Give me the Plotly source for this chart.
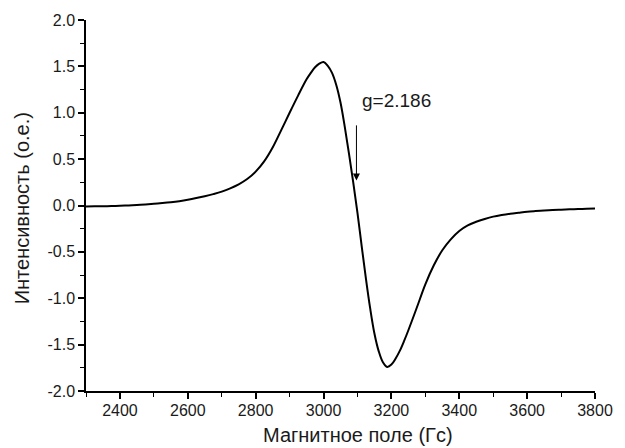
import plotly.graph_objects as go

# EPR derivative spectrum: magnetic field (G) vs intensity (a.u.)
# 25 G steps on the wings, 12.5 G steps across the resonance
field = ([2300 + 25 * i for i in range(26)]
         + [2950 + 12.5 * i for i in range(25)]
         + [3275 + 25 * i for i in range(22)])
intensity = [
    # 2300 .. 2925
    -0.010, -0.009, -0.008, -0.006, -0.003, 0.001, 0.005, 0.011, 0.018, 0.026,
    0.035, 0.047, 0.062, 0.080, 0.100, 0.123, 0.150, 0.185, 0.228, 0.285,
    0.365, 0.475, 0.625, 0.810, 1.000, 1.185,
    # 2950 .. 3250
    1.360, 1.430, 1.490, 1.530, 1.548, 1.505, 1.430, 1.300, 1.110, 0.850,
    0.560, 0.250, -0.080, -0.440, -0.790, -1.110, -1.380, -1.570, -1.690, -1.740,
    -1.715, -1.650, -1.565, -1.460, -1.345,
    # 3275 .. 3800
    -1.100, -0.850, -0.645, -0.482, -0.365, -0.275, -0.215, -0.175, -0.145, -0.120,
    -0.102, -0.088, -0.077, -0.067, -0.060, -0.054, -0.049, -0.045, -0.041, -0.038,
    -0.035, -0.032,
]

x_ticks = [2400, 2600, 2800, 3000, 3200, 3400, 3600, 3800]
y_ticks = [-2.0, -1.5, -1.0, -0.5, 0.0, 0.5, 1.0, 1.5, 2.0]
y_tick_text = ["-2.0", "-1.5", "-1.0", "-0.5", "0.0", "0.5", "1.0", "1.5", "2.0"]

g_field = 3097
g_label = "g=2.186"
arrow_top, arrow_tip = 0.88, 0.27

FONT = "Liberation Sans, Arial, sans-serif"
INK = "#1a1a1a"

fig = go.Figure()
fig.add_trace(go.Scatter(
    x=field, y=intensity, mode="lines",
    line=dict(color="black", width=2, shape="spline", smoothing=1.0),
    hoverinfo="skip", showlegend=False,
))

axis_common = dict(
    showline=True, linecolor="black", linewidth=1.5, mirror=False,
    showgrid=False, zeroline=False,
    ticks="outside", ticklen=6, tickwidth=1.5, tickcolor="black",
    tickfont=dict(family=FONT, size=16, color=INK),
)

fig.update_layout(
    width=625, height=448,
    margin=dict(l=86, r=28, t=14, b=57),
    paper_bgcolor="white", plot_bgcolor="white",
    xaxis=dict(range=[2300, 3800], tickvals=x_ticks, ticklabelstandoff=-2,
               minor=dict(dtick=100, tick0=2300, ticks="outside", ticklen=4,
                          tickwidth=1, tickcolor="black"),
               **axis_common),
    yaxis=dict(range=[-2, 2], tickvals=y_ticks, ticktext=y_tick_text,
               minor=dict(dtick=0.25, tick0=0, ticks="outside", ticklen=4,
                          tickwidth=1, tickcolor="black"),
               **axis_common),
)

# axis titles
fig.add_annotation(text="Магнитное поле (Гс)", xref="paper", yref="paper",
                   x=0.535, y=-0.118, xanchor="center", yanchor="middle",
                   showarrow=False, font=dict(family=FONT, size=20, color=INK))
fig.add_annotation(text="Интенсивность (о.е.)", xref="paper", yref="paper",
                   x=-0.1252, y=0.493, xanchor="center", yanchor="middle",
                   textangle=-90, showarrow=False,
                   font=dict(family=FONT, size=20, color=INK))

# g-factor marker
fig.add_annotation(x=g_field, y=arrow_tip, ax=g_field, ay=arrow_top,
                   xref="x", yref="y", axref="x", ayref="y",
                   text="", showarrow=True, arrowhead=2, arrowsize=1.4,
                   arrowwidth=1, arrowcolor="black", standoff=0)
fig.add_annotation(x=3108, y=1.13, xref="x", yref="y", text=g_label,
                   xanchor="left", yanchor="middle", showarrow=False,
                   font=dict(family=FONT, size=19, color=INK))

fig.write_html("out.html")
